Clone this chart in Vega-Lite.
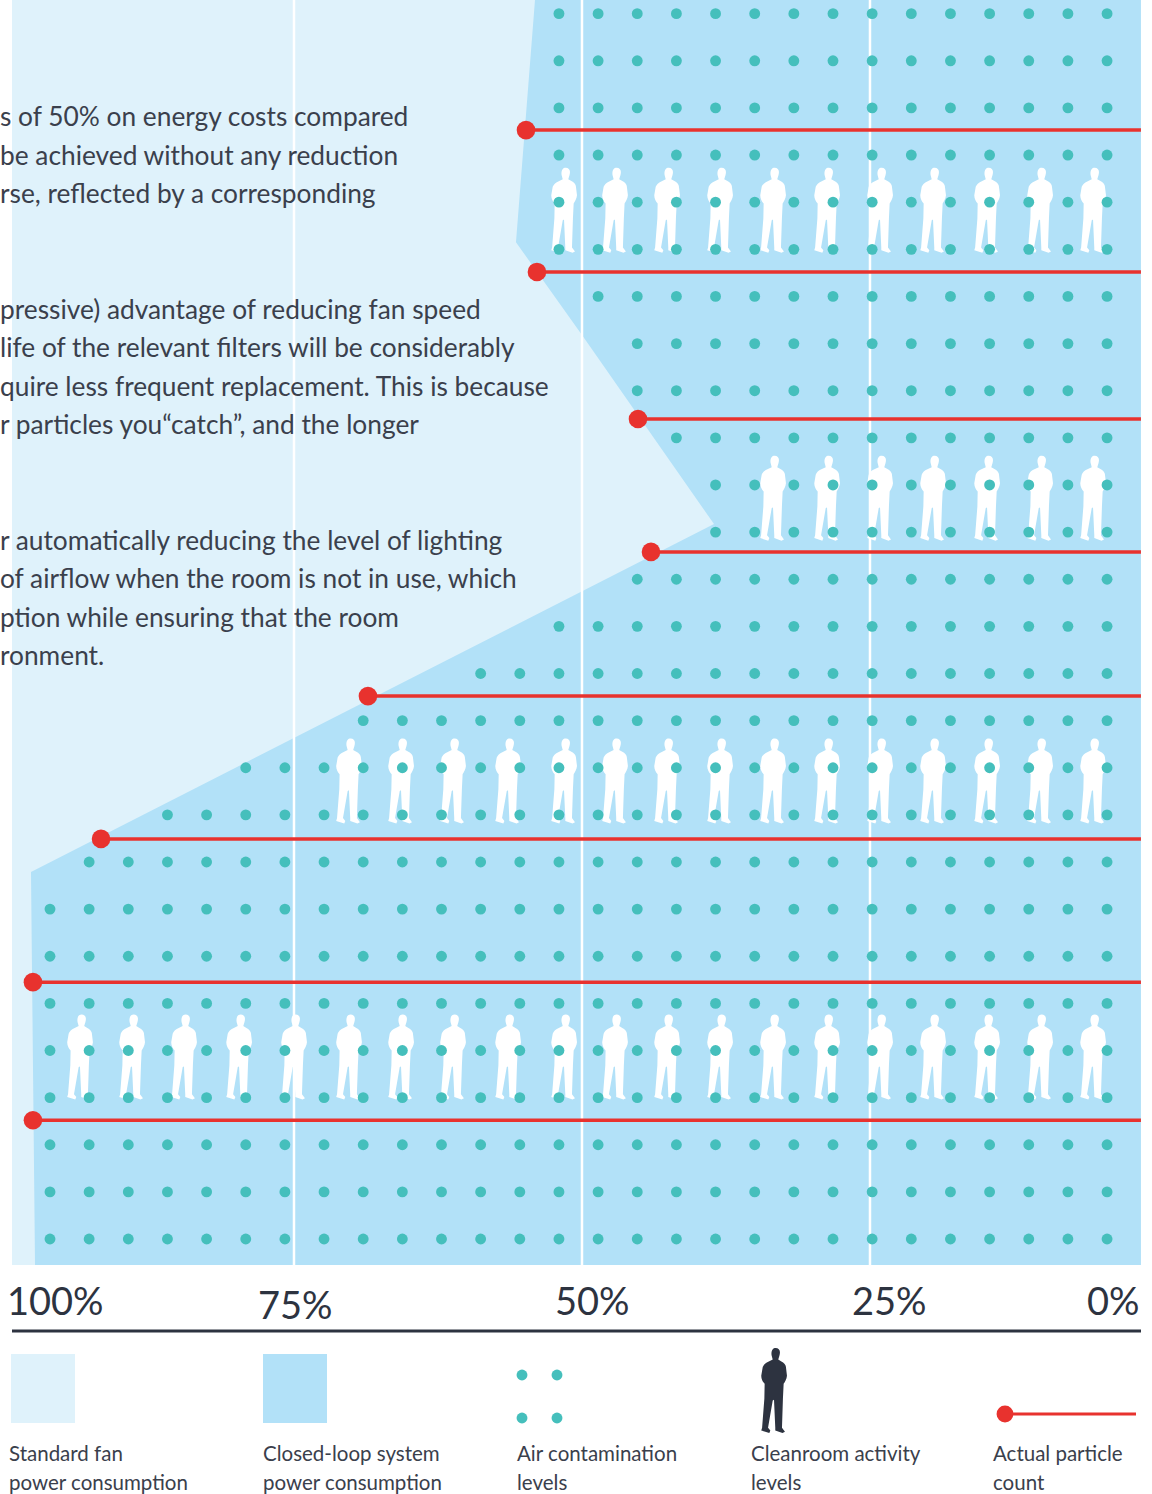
{"$schema":"https://vega.github.io/schema/vega-lite/v6.json","width":1152,"height":1494,"autosize":{"type":"fit","contains":"padding"},"padding":0,"background":"#ffffff","config":{"view":{"stroke":null}},"resolve":{"scale":{"x":"independent","y":"independent"}},
"layer":[
{"data":{"values":[{"a":99.48,"b":1.48,"l":26.29},{"a":99.48,"b":1.48,"l":-0.55}]},"mark":{"type":"area","orient":"horizontal","color":"#dff2fb","opacity":1},"encoding":{"y":{"field":"l","type":"quantitative","scale":{"domain":[-5.41,26.29],"nice":false,"zero":false},"axis":null},"x":{"field":"a","type":"quantitative","scale":{"domain":[100.52,0.52],"nice":false,"zero":false},"axis":null},"x2":{"field":"b"}}},
{"data":{"values":[{"a":54.08,"b":1.48,"l":26.29},{"a":55.73,"b":1.48,"l":21.15},{"a":50,"b":1.48,"l":19.18},{"a":38.54,"b":1.48,"l":15.17},{"a":97.83,"b":1.48,"l":7.79},{"a":97.48,"b":1.48,"l":-0.55}]},"mark":{"type":"area","orient":"horizontal","color":"#b2e1f8","opacity":1},"encoding":{"y":{"field":"l","type":"quantitative","scale":{"domain":[-5.41,26.29],"nice":false,"zero":false},"axis":null},"x":{"field":"a","type":"quantitative","scale":{"domain":[100.52,0.52],"nice":false,"zero":false},"axis":null},"x2":{"field":"b"}}},
{"data":{"values":[{"p":75,"a":26.29,"b":-0.55},{"p":50,"a":26.29,"b":-0.55},{"p":25,"a":26.29,"b":-0.55}]},"mark":{"type":"rule","color":"#ffffff","strokeWidth":2.5,"clip":true},"encoding":{"x":{"field":"p","type":"quantitative","scale":{"domain":[100.52,0.52],"nice":false,"zero":false},"axis":null},"y":{"field":"a","type":"quantitative","scale":{"domain":[-5.41,26.29],"nice":false,"zero":false},"axis":null},"y2":{"field":"b"}}},
{"data":{"values":[{"p":93.58,"l":3.86},{"p":89.06,"l":3.86},{"p":84.55,"l":3.86},{"p":79.77,"l":3.86},{"p":75,"l":3.86},{"p":70.23,"l":3.86},{"p":65.71,"l":3.86},{"p":61.2,"l":3.86},{"p":56.42,"l":3.86},{"p":51.56,"l":3.86},{"p":47.14,"l":3.86},{"p":42.62,"l":3.86},{"p":38.02,"l":3.86},{"p":33.42,"l":3.86},{"p":28.73,"l":3.86},{"p":24.13,"l":3.86},{"p":19.53,"l":3.86},{"p":14.84,"l":3.86},{"p":10.24,"l":3.86},{"p":5.64,"l":3.86},
{"p":70.23,"l":9.72},{"p":65.71,"l":9.72},{"p":61.2,"l":9.72},{"p":56.42,"l":9.72},{"p":51.56,"l":9.72},{"p":47.14,"l":9.72},{"p":42.62,"l":9.72},{"p":38.02,"l":9.72},{"p":33.42,"l":9.72},{"p":28.73,"l":9.72},{"p":24.13,"l":9.72},{"p":19.53,"l":9.72},{"p":14.84,"l":9.72},{"p":10.24,"l":9.72},{"p":5.64,"l":9.72},
{"p":33.42,"l":15.72},{"p":28.73,"l":15.72},{"p":24.13,"l":15.72},{"p":19.53,"l":15.72},{"p":14.84,"l":15.72},{"p":10.24,"l":15.72},{"p":5.64,"l":15.72},
{"p":51.56,"l":21.83},{"p":47.14,"l":21.83},{"p":42.62,"l":21.83},{"p":38.02,"l":21.83},{"p":33.42,"l":21.83},{"p":28.73,"l":21.83},{"p":24.13,"l":21.83},{"p":19.53,"l":21.83},{"p":14.84,"l":21.83},{"p":10.24,"l":21.83},{"p":5.64,"l":21.83}]},
"mark":{"type":"point","filled":true,"opacity":1,"color":"#ffffff","size":7225,"shape":"M.04 -1C.1 -1 .14 -.96 .14 -.9C.14 -.84 .12 -.8 .1 -.73L.164 -.69C.24 -.65 .28 -.6 .28 -.56L.305 -.35C.3 -.27 .25 -.2 .227 -.156L.21 .195L.1875 .875L.258 .97L.2 1L.03 .94L.03 .875L0 .22L-.03 .234L-.14 .875L-.086 .94L-.11 1L-.3 .94L-.28 .875L-.227 .195L-.22 -.156C-.26 -.2 -.3 -.27 -.3 -.35L-.266 -.55C-.25 -.6 -.2 -.64 -.17 -.66L-.03 -.73C-.05 -.8 -.06 -.83 -.06 -.86C-.06 -.96 -.02 -1 .04 -1Z"},"encoding":{"x":{"field":"p","type":"quantitative","scale":{"domain":[100.52,0.52],"nice":false,"zero":false},"axis":null},"y":{"field":"l","type":"quantitative","scale":{"domain":[-5.41,26.29],"nice":false,"zero":false},"axis":null}}},
{"data":{"values":[
{"c":0,"r":0},{"c":1,"r":0},{"c":2,"r":0},{"c":3,"r":0},{"c":4,"r":0},{"c":5,"r":0},{"c":6,"r":0},{"c":7,"r":0},{"c":8,"r":0},{"c":9,"r":0},{"c":10,"r":0},{"c":11,"r":0},{"c":12,"r":0},{"c":13,"r":0},{"c":14,"r":0},{"c":15,"r":0},{"c":16,"r":0},{"c":17,"r":0},{"c":18,"r":0},{"c":19,"r":0},{"c":20,"r":0},{"c":21,"r":0},{"c":22,"r":0},{"c":23,"r":0},{"c":24,"r":0},{"c":25,"r":0},{"c":26,"r":0},{"c":27,"r":0},
{"c":0,"r":1},{"c":1,"r":1},{"c":2,"r":1},{"c":3,"r":1},{"c":4,"r":1},{"c":5,"r":1},{"c":6,"r":1},{"c":7,"r":1},{"c":8,"r":1},{"c":9,"r":1},{"c":10,"r":1},{"c":11,"r":1},{"c":12,"r":1},{"c":13,"r":1},{"c":14,"r":1},{"c":15,"r":1},{"c":16,"r":1},{"c":17,"r":1},{"c":18,"r":1},{"c":19,"r":1},{"c":20,"r":1},{"c":21,"r":1},{"c":22,"r":1},{"c":23,"r":1},{"c":24,"r":1},{"c":25,"r":1},{"c":26,"r":1},{"c":27,"r":1},
{"c":0,"r":2},{"c":1,"r":2},{"c":2,"r":2},{"c":3,"r":2},{"c":4,"r":2},{"c":5,"r":2},{"c":6,"r":2},{"c":7,"r":2},{"c":8,"r":2},{"c":9,"r":2},{"c":10,"r":2},{"c":11,"r":2},{"c":12,"r":2},{"c":13,"r":2},{"c":14,"r":2},{"c":15,"r":2},{"c":16,"r":2},{"c":17,"r":2},{"c":18,"r":2},{"c":19,"r":2},{"c":20,"r":2},{"c":21,"r":2},{"c":22,"r":2},{"c":23,"r":2},{"c":24,"r":2},{"c":25,"r":2},{"c":26,"r":2},{"c":27,"r":2},
{"c":0,"r":3},{"c":1,"r":3},{"c":2,"r":3},{"c":3,"r":3},{"c":4,"r":3},{"c":5,"r":3},{"c":6,"r":3},{"c":7,"r":3},{"c":8,"r":3},{"c":9,"r":3},{"c":10,"r":3},{"c":11,"r":3},{"c":12,"r":3},{"c":13,"r":3},{"c":14,"r":3},{"c":15,"r":3},{"c":16,"r":3},{"c":17,"r":3},{"c":18,"r":3},{"c":19,"r":3},{"c":20,"r":3},{"c":21,"r":3},{"c":22,"r":3},{"c":23,"r":3},{"c":24,"r":3},{"c":25,"r":3},{"c":26,"r":3},{"c":27,"r":3},
{"c":0,"r":4},{"c":1,"r":4},{"c":2,"r":4},{"c":3,"r":4},{"c":4,"r":4},{"c":5,"r":4},{"c":6,"r":4},{"c":7,"r":4},{"c":8,"r":4},{"c":9,"r":4},{"c":10,"r":4},{"c":11,"r":4},{"c":12,"r":4},{"c":13,"r":4},{"c":14,"r":4},{"c":15,"r":4},{"c":16,"r":4},{"c":17,"r":4},{"c":18,"r":4},{"c":19,"r":4},{"c":20,"r":4},{"c":21,"r":4},{"c":22,"r":4},{"c":23,"r":4},{"c":24,"r":4},{"c":25,"r":4},{"c":26,"r":4},{"c":27,"r":4},
{"c":0,"r":5},{"c":1,"r":5},{"c":2,"r":5},{"c":3,"r":5},{"c":4,"r":5},{"c":5,"r":5},{"c":6,"r":5},{"c":7,"r":5},{"c":8,"r":5},{"c":9,"r":5},{"c":10,"r":5},{"c":11,"r":5},{"c":12,"r":5},{"c":13,"r":5},{"c":14,"r":5},{"c":15,"r":5},{"c":16,"r":5},{"c":17,"r":5},{"c":18,"r":5},{"c":19,"r":5},{"c":20,"r":5},{"c":21,"r":5},{"c":22,"r":5},{"c":23,"r":5},{"c":24,"r":5},{"c":25,"r":5},{"c":26,"r":5},{"c":27,"r":5},
{"c":0,"r":6},{"c":1,"r":6},{"c":2,"r":6},{"c":3,"r":6},{"c":4,"r":6},{"c":5,"r":6},{"c":6,"r":6},{"c":7,"r":6},{"c":8,"r":6},{"c":9,"r":6},{"c":10,"r":6},{"c":11,"r":6},{"c":12,"r":6},{"c":13,"r":6},{"c":14,"r":6},{"c":15,"r":6},{"c":16,"r":6},{"c":17,"r":6},{"c":18,"r":6},{"c":19,"r":6},{"c":20,"r":6},{"c":21,"r":6},{"c":22,"r":6},{"c":23,"r":6},{"c":24,"r":6},{"c":25,"r":6},{"c":26,"r":6},{"c":27,"r":6},
{"c":0,"r":7},{"c":1,"r":7},{"c":2,"r":7},{"c":3,"r":7},{"c":4,"r":7},{"c":5,"r":7},{"c":6,"r":7},{"c":7,"r":7},{"c":8,"r":7},{"c":9,"r":7},{"c":10,"r":7},{"c":11,"r":7},{"c":12,"r":7},{"c":13,"r":7},{"c":14,"r":7},{"c":15,"r":7},{"c":16,"r":7},{"c":17,"r":7},{"c":18,"r":7},{"c":19,"r":7},{"c":20,"r":7},{"c":21,"r":7},{"c":22,"r":7},{"c":23,"r":7},{"c":24,"r":7},{"c":25,"r":7},{"c":26,"r":7},{"c":27,"r":7},
{"c":1,"r":8},{"c":2,"r":8},{"c":3,"r":8},{"c":4,"r":8},{"c":5,"r":8},{"c":6,"r":8},{"c":7,"r":8},{"c":8,"r":8},{"c":9,"r":8},{"c":10,"r":8},{"c":11,"r":8},{"c":12,"r":8},{"c":13,"r":8},{"c":14,"r":8},{"c":15,"r":8},{"c":16,"r":8},{"c":17,"r":8},{"c":18,"r":8},{"c":19,"r":8},{"c":20,"r":8},{"c":21,"r":8},{"c":22,"r":8},{"c":23,"r":8},{"c":24,"r":8},{"c":25,"r":8},{"c":26,"r":8},{"c":27,"r":8},
{"c":3,"r":9},{"c":4,"r":9},{"c":5,"r":9},{"c":6,"r":9},{"c":7,"r":9},{"c":8,"r":9},{"c":9,"r":9},{"c":10,"r":9},{"c":11,"r":9},{"c":12,"r":9},{"c":13,"r":9},{"c":14,"r":9},{"c":15,"r":9},{"c":16,"r":9},{"c":17,"r":9},{"c":18,"r":9},{"c":19,"r":9},{"c":20,"r":9},{"c":21,"r":9},{"c":22,"r":9},{"c":23,"r":9},{"c":24,"r":9},{"c":25,"r":9},{"c":26,"r":9},{"c":27,"r":9},
{"c":5,"r":10},{"c":6,"r":10},{"c":7,"r":10},{"c":8,"r":10},{"c":9,"r":10},{"c":10,"r":10},{"c":11,"r":10},{"c":12,"r":10},{"c":13,"r":10},{"c":14,"r":10},{"c":15,"r":10},{"c":16,"r":10},{"c":17,"r":10},{"c":18,"r":10},{"c":19,"r":10},{"c":20,"r":10},{"c":21,"r":10},{"c":22,"r":10},{"c":23,"r":10},{"c":24,"r":10},{"c":25,"r":10},{"c":26,"r":10},{"c":27,"r":10},
{"c":8,"r":11},{"c":9,"r":11},{"c":10,"r":11},{"c":11,"r":11},{"c":12,"r":11},{"c":13,"r":11},{"c":14,"r":11},{"c":15,"r":11},{"c":16,"r":11},{"c":17,"r":11},{"c":18,"r":11},{"c":19,"r":11},{"c":20,"r":11},{"c":21,"r":11},{"c":22,"r":11},{"c":23,"r":11},{"c":24,"r":11},{"c":25,"r":11},{"c":26,"r":11},{"c":27,"r":11},
{"c":11,"r":12},{"c":12,"r":12},{"c":13,"r":12},{"c":14,"r":12},{"c":15,"r":12},{"c":16,"r":12},{"c":17,"r":12},{"c":18,"r":12},{"c":19,"r":12},{"c":20,"r":12},{"c":21,"r":12},{"c":22,"r":12},{"c":23,"r":12},{"c":24,"r":12},{"c":25,"r":12},{"c":26,"r":12},{"c":27,"r":12},
{"c":13,"r":13},{"c":14,"r":13},{"c":15,"r":13},{"c":16,"r":13},{"c":17,"r":13},{"c":18,"r":13},{"c":19,"r":13},{"c":20,"r":13},{"c":21,"r":13},{"c":22,"r":13},{"c":23,"r":13},{"c":24,"r":13},{"c":25,"r":13},{"c":26,"r":13},{"c":27,"r":13},
{"c":15,"r":14},{"c":16,"r":14},{"c":17,"r":14},{"c":18,"r":14},{"c":19,"r":14},{"c":20,"r":14},{"c":21,"r":14},{"c":22,"r":14},{"c":23,"r":14},{"c":24,"r":14},{"c":25,"r":14},{"c":26,"r":14},{"c":27,"r":14},
{"c":17,"r":15},{"c":18,"r":15},{"c":19,"r":15},{"c":20,"r":15},{"c":21,"r":15},{"c":22,"r":15},{"c":23,"r":15},{"c":24,"r":15},{"c":25,"r":15},{"c":26,"r":15},{"c":27,"r":15},
{"c":17,"r":16},{"c":18,"r":16},{"c":19,"r":16},{"c":20,"r":16},{"c":21,"r":16},{"c":22,"r":16},{"c":23,"r":16},{"c":24,"r":16},{"c":25,"r":16},{"c":26,"r":16},{"c":27,"r":16},
{"c":16,"r":17},{"c":17,"r":17},{"c":18,"r":17},{"c":19,"r":17},{"c":20,"r":17},{"c":21,"r":17},{"c":22,"r":17},{"c":23,"r":17},{"c":24,"r":17},{"c":25,"r":17},{"c":26,"r":17},{"c":27,"r":17},
{"c":15,"r":18},{"c":16,"r":18},{"c":17,"r":18},{"c":18,"r":18},{"c":19,"r":18},{"c":20,"r":18},{"c":21,"r":18},{"c":22,"r":18},{"c":23,"r":18},{"c":24,"r":18},{"c":25,"r":18},{"c":26,"r":18},{"c":27,"r":18},
{"c":15,"r":19},{"c":16,"r":19},{"c":17,"r":19},{"c":18,"r":19},{"c":19,"r":19},{"c":20,"r":19},{"c":21,"r":19},{"c":22,"r":19},{"c":23,"r":19},{"c":24,"r":19},{"c":25,"r":19},{"c":26,"r":19},{"c":27,"r":19},
{"c":14,"r":20},{"c":15,"r":20},{"c":16,"r":20},{"c":17,"r":20},{"c":18,"r":20},{"c":19,"r":20},{"c":20,"r":20},{"c":21,"r":20},{"c":22,"r":20},{"c":23,"r":20},{"c":24,"r":20},{"c":25,"r":20},{"c":26,"r":20},{"c":27,"r":20},
{"c":13,"r":21},{"c":14,"r":21},{"c":15,"r":21},{"c":16,"r":21},{"c":17,"r":21},{"c":18,"r":21},{"c":19,"r":21},{"c":20,"r":21},{"c":21,"r":21},{"c":22,"r":21},{"c":23,"r":21},{"c":24,"r":21},{"c":25,"r":21},{"c":26,"r":21},{"c":27,"r":21},
{"c":13,"r":22},{"c":14,"r":22},{"c":15,"r":22},{"c":16,"r":22},{"c":17,"r":22},{"c":18,"r":22},{"c":19,"r":22},{"c":20,"r":22},{"c":21,"r":22},{"c":22,"r":22},{"c":23,"r":22},{"c":24,"r":22},{"c":25,"r":22},{"c":26,"r":22},{"c":27,"r":22},
{"c":13,"r":23},{"c":14,"r":23},{"c":15,"r":23},{"c":16,"r":23},{"c":17,"r":23},{"c":18,"r":23},{"c":19,"r":23},{"c":20,"r":23},{"c":21,"r":23},{"c":22,"r":23},{"c":23,"r":23},{"c":24,"r":23},{"c":25,"r":23},{"c":26,"r":23},{"c":27,"r":23},
{"c":13,"r":24},{"c":14,"r":24},{"c":15,"r":24},{"c":16,"r":24},{"c":17,"r":24},{"c":18,"r":24},{"c":19,"r":24},{"c":20,"r":24},{"c":21,"r":24},{"c":22,"r":24},{"c":23,"r":24},{"c":24,"r":24},{"c":25,"r":24},{"c":26,"r":24},{"c":27,"r":24},
{"c":13,"r":25},{"c":14,"r":25},{"c":15,"r":25},{"c":16,"r":25},{"c":17,"r":25},{"c":18,"r":25},{"c":19,"r":25},{"c":20,"r":25},{"c":21,"r":25},{"c":22,"r":25},{"c":23,"r":25},{"c":24,"r":25},{"c":25,"r":25},{"c":26,"r":25},{"c":27,"r":25},
{"c":13,"r":26},{"c":14,"r":26},{"c":15,"r":26},{"c":16,"r":26},{"c":17,"r":26},{"c":18,"r":26},{"c":19,"r":26},{"c":20,"r":26},{"c":21,"r":26},{"c":22,"r":26},{"c":23,"r":26},{"c":24,"r":26},{"c":25,"r":26},{"c":26,"r":26},{"c":27,"r":26}
]},"mark":{"type":"circle","color":"#45bfbc","opacity":1,"size":118},"encoding":{"x":{"field":"c","type":"quantitative","scale":{"domain":[-1.277,28.148],"nice":false,"zero":false},"axis":null},"y":{"field":"r","type":"quantitative","scale":{"domain":[-5.41,26.29],"nice":false,"zero":false},"axis":null}}},
{"data":{"name":"counts","values":[{"p":54.86,"e":1.48,"l":23.53},{"p":53.91,"e":1.48,"l":20.52},{"p":45.14,"e":1.48,"l":17.4},{"p":44.01,"e":1.48,"l":14.58},{"p":68.58,"e":1.48,"l":11.52},{"p":91.75,"e":1.48,"l":8.49},{"p":97.66,"e":1.48,"l":5.45},{"p":97.66,"e":1.48,"l":2.52}]},"mark":{"type":"rule","color":"#e8322e","strokeWidth":3.5},"encoding":{"x":{"field":"p","type":"quantitative","scale":{"domain":[100.52,0.52],"nice":false,"zero":false},"axis":null},"x2":{"field":"e"},"y":{"field":"l","type":"quantitative","scale":{"domain":[-5.41,26.29],"nice":false,"zero":false},"axis":null}}},
{"data":{"name":"counts2","values":[{"p":54.86,"l":23.53},{"p":53.91,"l":20.52},{"p":45.14,"l":17.4},{"p":44.01,"l":14.58},{"p":68.58,"l":11.52},{"p":91.75,"l":8.49},{"p":97.66,"l":5.45},{"p":97.66,"l":2.52}]},"mark":{"type":"circle","color":"#e8322e","opacity":1,"size":346},"encoding":{"x":{"field":"p","type":"quantitative","scale":{"domain":[100.52,0.52],"nice":false,"zero":false},"axis":null},"y":{"field":"l","type":"quantitative","scale":{"domain":[-5.41,26.29],"nice":false,"zero":false},"axis":null}}},
{"data":{"values":[{"x":12,"x2":1141,"y":1331}]},"mark":{"type":"rule","color":"#2d3340","strokeWidth":3},"encoding":{"x":{"field":"x","type":"quantitative","scale":{"domain":[0,1152],"nice":false},"axis":null},"x2":{"field":"x2"},"y":{"field":"y","type":"quantitative","scale":{"domain":[1494,0],"nice":false},"axis":null}}},
{"data":{"values":[{"x":11,"x2":75,"y":1354,"y2":1423,"k":"Standard fan power consumption"},{"x":263,"x2":327,"y":1354,"y2":1423,"k":"Closed-loop system power consumption"}]},"mark":{"type":"rect"},"encoding":{"x":{"field":"x","type":"quantitative","scale":{"domain":[0,1152],"nice":false},"axis":null},"x2":{"field":"x2"},"y":{"field":"y","type":"quantitative","scale":{"domain":[1494,0],"nice":false},"axis":null},"y2":{"field":"y2"},"color":{"field":"k","type":"nominal","scale":{"domain":["Standard fan power consumption","Closed-loop system power consumption"],"range":["#dff2fb","#b2e1f8"]},"legend":null}}},
{"data":{"values":[{"x":522,"y":1375},{"x":557,"y":1375},{"x":522,"y":1418},{"x":557,"y":1418}]},"mark":{"type":"circle","color":"#45bfbc","opacity":1,"size":118},"encoding":{"x":{"field":"x","type":"quantitative","scale":{"domain":[0,1152],"nice":false},"axis":null},"y":{"field":"y","type":"quantitative","scale":{"domain":[1494,0],"nice":false},"axis":null}}},
{"data":{"values":[{"x":774,"y":1390.5}]},"mark":{"type":"point","filled":true,"opacity":1,"color":"#2d3340","size":7225,"shape":"M.04 -1C.1 -1 .14 -.96 .14 -.9C.14 -.84 .12 -.8 .1 -.73L.164 -.69C.24 -.65 .28 -.6 .28 -.56L.305 -.35C.3 -.27 .25 -.2 .227 -.156L.21 .195L.1875 .875L.258 .97L.2 1L.03 .94L.03 .875L0 .22L-.03 .234L-.14 .875L-.086 .94L-.11 1L-.3 .94L-.28 .875L-.227 .195L-.22 -.156C-.26 -.2 -.3 -.27 -.3 -.35L-.266 -.55C-.25 -.6 -.2 -.64 -.17 -.66L-.03 -.73C-.05 -.8 -.06 -.83 -.06 -.86C-.06 -.96 -.02 -1 .04 -1Z"},"encoding":{"x":{"field":"x","type":"quantitative","scale":{"domain":[0,1152],"nice":false},"axis":null},"y":{"field":"y","type":"quantitative","scale":{"domain":[1494,0],"nice":false},"axis":null}}},
{"data":{"values":[{"x":1005,"x2":1136,"y":1414}]},"mark":{"type":"rule","color":"#e8322e","strokeWidth":3},"encoding":{"x":{"field":"x","type":"quantitative","scale":{"domain":[0,1152],"nice":false},"axis":null},"x2":{"field":"x2"},"y":{"field":"y","type":"quantitative","scale":{"domain":[1494,0],"nice":false},"axis":null}}},
{"data":{"values":[{"x":1005,"y":1414}]},"mark":{"type":"circle","color":"#e8322e","opacity":1,"size":283},"encoding":{"x":{"field":"x","type":"quantitative","scale":{"domain":[0,1152],"nice":false},"axis":null},"y":{"field":"y","type":"quantitative","scale":{"domain":[1494,0],"nice":false},"axis":null}}},
{"data":{"values":[{"x":0,"y":118,"t":"s of 50% on energy costs compared"},{"x":0,"y":157,"t":"be achieved without any reduction"},{"x":0,"y":195,"t":"rse, reflected by a corresponding"},{"x":0,"y":311,"t":"pressive) advantage of reducing fan speed"},{"x":0,"y":349,"t":"life of the relevant filters will be considerably"},{"x":0,"y":388,"t":"quire less frequent replacement.  This is because"},{"x":0,"y":426,"t":"r particles you“catch”, and the longer"},{"x":0,"y":542,"t":"r automatically reducing the level of lighting"},{"x":0,"y":580,"t":"of airflow when the room is not in use, which"},{"x":0,"y":619,"t":"ption while ensuring that the room"},{"x":0,"y":657,"t":"ronment."}]},"mark":{"type":"text","font":"Lato","fontSize":26.3,"align":"left","baseline":"middle","color":"#3a404c","clip":true},"encoding":{"x":{"field":"x","type":"quantitative","scale":{"domain":[0,1152],"nice":false},"axis":null},"y":{"field":"y","type":"quantitative","scale":{"domain":[1494,0],"nice":false},"axis":null},"text":{"field":"t"}}},
{"data":{"values":[{"x":7,"y":1304,"t":"100%"},{"x":258,"y":1308,"t":"75%"},{"x":555,"y":1304,"t":"50%"},{"x":852,"y":1304,"t":"25%"},{"x":1087,"y":1304,"t":"0%"}]},"mark":{"type":"text","font":"Lato","fontSize":38,"align":"left","baseline":"middle","color":"#2d3340"},"encoding":{"x":{"field":"x","type":"quantitative","scale":{"domain":[0,1152],"nice":false},"axis":null},"y":{"field":"y","type":"quantitative","scale":{"domain":[1494,0],"nice":false},"axis":null},"text":{"field":"t"}}},
{"data":{"values":[{"x":9,"y":1455,"t":"Standard fan"},{"x":9,"y":1484,"t":"power consumption"},{"x":263,"y":1455,"t":"Closed-loop system"},{"x":263,"y":1484,"t":"power consumption"},{"x":517,"y":1455,"t":"Air contamination"},{"x":517,"y":1484,"t":"levels"},{"x":751,"y":1455,"t":"Cleanroom activity"},{"x":751,"y":1484,"t":"levels"},{"x":993,"y":1455,"t":"Actual particle"},{"x":993,"y":1484,"t":"count"}]},"mark":{"type":"text","font":"Lato","fontSize":20.5,"align":"left","baseline":"middle","color":"#3a404c","clip":true},"encoding":{"x":{"field":"x","type":"quantitative","scale":{"domain":[0,1152],"nice":false},"axis":null},"y":{"field":"y","type":"quantitative","scale":{"domain":[1494,0],"nice":false},"axis":null},"text":{"field":"t"}}}
]}
